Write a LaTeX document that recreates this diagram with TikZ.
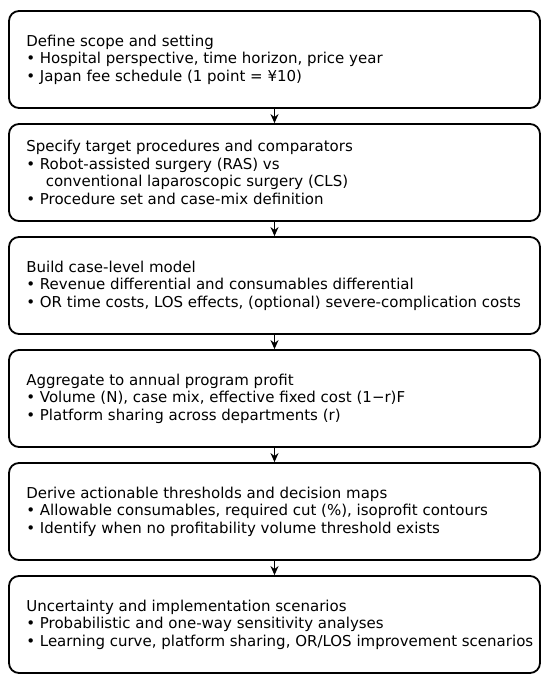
\documentclass[tikz,border=0pt]{standalone}
\usepackage{fontspec}
\setmainfont{DejaVu Sans}
\usetikzlibrary{arrows.meta}
\begin{document}
\begin{tikzpicture}[x=1pt,y=1pt,
  stagebox/.style={draw, line width=1.8pt, rounded corners=10pt, minimum width=531pt, minimum height=97pt, inner sep=0pt},
  stagetext/.style={anchor=west, align=left, inner sep=0pt, font=\fontsize{15}{17.5}\selectfont},
  flow/.style={-{Stealth[length=9pt,width=8pt]}, line width=1.4pt}]
\useasboundingbox (0,0) rectangle (550,685);
\foreach \n/\y in {1/625.5,2/512.5,3/399.5,4/286.5,5/173.5,6/60.5}
  \node[stagebox] (s\n) at (274.5,\y) {};
\node[stagetext] (t1) at ([xshift=18pt]s1.west) {Define scope and setting\\
\textbullet\ Hospital perspective, time horizon, price year\\
\textbullet\ Japan fee schedule (1 point = ¥10)};
\node[stagetext] (t2) at ([xshift=18pt]s2.west) {Specify target procedures and comparators\\
\textbullet\ Robot-assisted surgery (RAS) vs\\
\hspace*{1.3em}conventional laparoscopic surgery (CLS)\\
\textbullet\ Procedure set and case-mix definition};
\node[stagetext] (t3) at ([xshift=18pt]s3.west) {Build case-level model\\
\textbullet\ Revenue differential and consumables differential\\
\textbullet\ OR time costs, LOS effects, (optional) severe-complication costs};
\node[stagetext] (t4) at ([xshift=18pt]s4.west) {Aggregate to annual program profit\\
\textbullet\ Volume (N), case mix, effective fixed cost (1−r)F\\
\textbullet\ Platform sharing across departments (r)};
\node[stagetext] (t5) at ([xshift=18pt]s5.west) {Derive actionable thresholds and decision maps\\
\textbullet\ Allowable consumables, required cut (\%), isoprofit contours\\
\textbullet\ Identify when no profitability volume threshold exists};
\node[stagetext] (t6) at ([xshift=18pt]s6.west) {Uncertainty and implementation scenarios\\
\textbullet\ Probabilistic and one-way sensitivity analyses\\
\textbullet\ Learning curve, platform sharing, OR/LOS improvement scenarios};
\foreach \a/\b in {s1/s2,s2/s3,s3/s4,s4/s5,s5/s6}
  \draw[flow] (\a.south) -- (\b.north);
\end{tikzpicture}
\end{document}
